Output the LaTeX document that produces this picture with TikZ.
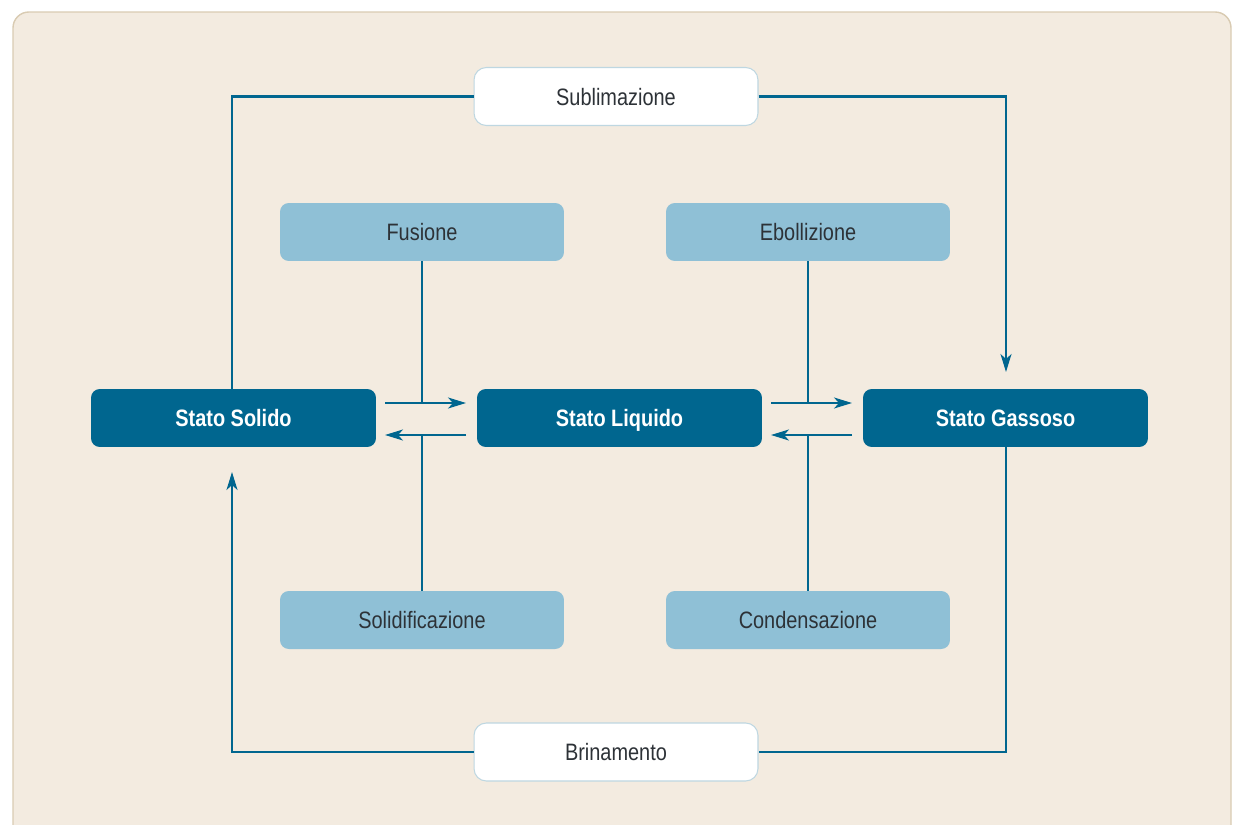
\documentclass[tikz,border=0pt]{standalone}
\usepackage{fontspec}
\setmainfont{Liberation Sans}[FakeStretch=0.84]
\usetikzlibrary{arrows.meta}
\definecolor{statoblu}{RGB}{0,102,143}
\definecolor{processoblu}{RGB}{143,192,214}
\definecolor{fondo}{RGB}{243,235,224}
\definecolor{bordofondo}{RGB}{217,203,178}
\definecolor{bordobianco}{RGB}{190,215,225}
\definecolor{testo}{RGB}{45,50,55}
\tikzset{
    casella/.style={rounded corners=5pt, minimum width=5.68cm, minimum height=1.16cm,
        inner sep=0pt, text height=9.8pt, text depth=0pt},
    stato/.style={casella, fill=statoblu, text=white, font=\bfseries\fontsize{13.5}{16}\selectfont,
        minimum width=5.7cm},
    processo/.style={casella, fill=processoblu, text=testo, font=\fontsize{13.5}{16}\selectfont},
    transizione/.style={casella, fill=white, draw=bordobianco, line width=0.6pt, text=testo,
        font=\fontsize{13.5}{16}\selectfont, rounded corners=7pt},
    linea/.style={statoblu, line width=1.15pt},
    freccia/.style={linea, -{Stealth[length=0.36cm, width=0.22cm, inset=0.1cm]}}
}
\begin{document}
\begin{tikzpicture}[x=0.02cm, y=-0.02cm]
        \useasboundingbox (0,0) rectangle (1235,825);
        \draw [fill=fondo, draw=bordofondo, line width=0.8pt, rounded corners=9pt] (13,12) rectangle (1231,860);

        % stati
        \node [stato] (solido) at (233.5,418) {Stato Solido};
        \node [stato] (liquido) at (619.5,418) {Stato Liquido};
        \node [stato] (gassoso) at (1005.5,418) {Stato Gassoso};

        % processi
        \node [processo] (fusione) at (422,232) {Fusione};
        \node [processo] (ebollizione) at (808,232) {Ebollizione};
        \node [processo] (solidificazione) at (422,620) {Solidificazione};
        \node [processo] (condensazione) at (808,620) {Condensazione};
        \node [transizione] (sublimazione) at (616,96.5) {Sublimazione};
        \node [transizione] (brinamento) at (616,752) {Brinamento};

        % frecce orizzontali
        \coordinate (a1) at (385,403);  \coordinate (b1) at (466,403);
        \coordinate (a2) at (466,435);  \coordinate (b2) at (385,435);
        \coordinate (a3) at (771,403);  \coordinate (b3) at (852,403);
        \coordinate (a4) at (852,435);  \coordinate (b4) at (771,435);
        \foreach \i in {1,...,4} {
            \draw [freccia] (a\i) -- (b\i);
        }
        \draw [linea] (fusione.south) -- (fusione.south |- a1);
        \draw [linea] (solidificazione.north) -- (solidificazione.north |- a2);
        \draw [linea] (ebollizione.south) -- (ebollizione.south |- a3);
        \draw [linea] (condensazione.north) -- (condensazione.north |- a4);

        % sublimazione e brinamento
        \coordinate (sol) at (232,389);
        \coordinate (gas) at (1006,389);
        \coordinate (solb) at (232,447);
        \coordinate (gasb) at (1006,447);
        \draw [linea] (sol) |- (sublimazione.west);
        \draw [freccia, shorten >=0.34cm] (sublimazione.east) -| (gas);
        \draw [linea] (gasb) |- (brinamento.east);
        \draw [freccia, shorten >=0.5cm] (brinamento.west) -| (solb);
\end{tikzpicture}
\end{document}
